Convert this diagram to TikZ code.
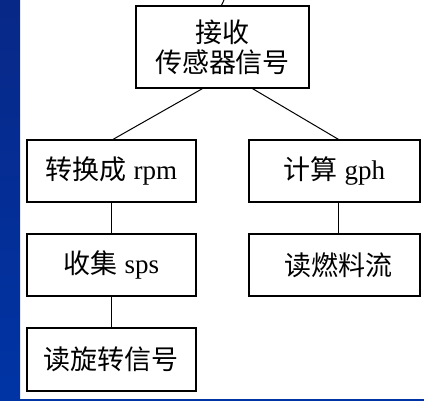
\documentclass[tikz,border=0pt]{standalone}
\usepackage{fontspec}
\setmainfont{Liberation Serif}
\newfontfamily\cjk{Noto Sans CJK SC}
\definecolor{sidetop}{RGB}{8,40,135}
\definecolor{sideblue}{RGB}{0,52,165}
\tikzset{
  box/.style = {draw, line width=1.2pt, inner sep=0pt, align=center,
                font=\fontsize{27}{30}\selectfont},
  link/.style = {line width=1pt}
}

\begin{document}
\begin{tikzpicture}[x=1pt,y=-1pt]
\useasboundingbox (0,0) rectangle (424,401);
% blue frame
\shade[top color=sidetop, bottom color=sideblue] (0,0) rectangle (20,401);
\fill[sideblue] (20,399) rectangle (424,400.6);

% boxes
\node[box, minimum width=173, minimum height=82] (recv) at (222.5,47) {{\cjk 接收}\\{\cjk 传感器信号}};
\node[box, minimum width=169, minimum height=62] (rpm) at (111.5,171) {{\cjk 转换成} rpm};
\node[box, minimum width=169, minimum height=62] (sps) at (111.5,265) {{\cjk 收集} sps};
\node[box, minimum width=169, minimum height=63] (rot) at (111.5,359.5) {\cjk 读旋转信号};
\node[box, minimum width=171, minimum height=62] (gph) at (334.5,171) {{\cjk 计算} gph};
\node[box, minimum width=171, minimum height=62] (fuel) at (334.5,265) {\hspace*{7pt}\cjk 读燃料流};

% links
\coordinate (up) at (224,0);
\draw[link] ([xshift=-1pt]recv.north) -- (up);
\draw[link] ([xshift=-20pt]recv.south) -- ([xshift=1.5pt]rpm.north);
\draw[link] ([xshift=30pt]recv.south) -- ([xshift=4pt]gph.north);
\draw[link] (rpm) -- (sps);
\draw[link] (sps) -- (rot);
\draw[link] ([xshift=4pt]gph.south) -- ([xshift=4pt]fuel.north);
\end{tikzpicture}
\end{document}
